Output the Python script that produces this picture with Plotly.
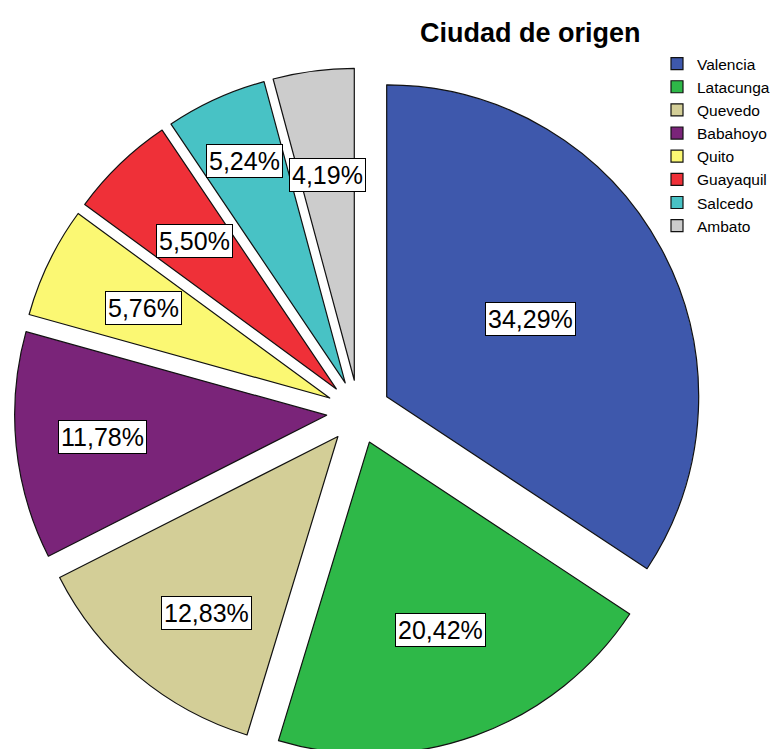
import math
import plotly.graph_objects as go

cities = ["Valencia", "Latacunga", "Quevedo", "Babahoyo", "Quito", "Guayaquil", "Salcedo", "Ambato"]
percent = [34.29, 20.42, 12.83, 11.78, 5.76, 5.50, 5.24, 4.19]
colors = ["#3E58AC", "#2EB848", "#D3CE97", "#7A2479", "#FBF873", "#EF3038", "#48C2C5", "#CCCCCC"]
# placement of the percentage boxes (style): radial fraction and angular nudge in degrees
label_frac = [0.524, 0.644, 0.706, 0.723, 0.662, 0.658, 0.781, 0.664]
label_dang = [0.0, -1.0, -3.4, 0.0, 0.0, 0.0, 0.0, 0.0]

W, H = 784, 749
PULL = 0.1026
dom_x = [0.00829, 0.88584]
dom_y = [0.00134, 0.91989]

fig = go.Figure(go.Pie(
    labels=cities,
    values=percent,
    sort=False,
    direction="clockwise",
    rotation=0,
    pull=[PULL] * len(cities),
    marker=dict(colors=colors, line=dict(color="#111111", width=1.2)),
    textinfo="none",
    hoverinfo="label+percent",
    domain=dict(x=dom_x, y=dom_y),
))

# geometry derived from the pie domain, to place label boxes
wpx = (dom_x[1] - dom_x[0]) * W
hpx = (dom_y[1] - dom_y[0]) * H
r = min(wpx, hpx) / 2 / (1 + PULL)
cx = (dom_x[0] + dom_x[1]) / 2 * W
cy = (dom_y[0] + dom_y[1]) / 2 * H
total = sum(percent)
cum = 0.0
annotations = []
for v, f, da in zip(percent, label_frac, label_dang):
    mid = (cum + v / 2) / total * 2 * math.pi
    cum += v
    # slice vertex after pull
    vx = cx + PULL * r * math.sin(mid)
    vy = cy + PULL * r * math.cos(mid)
    ang = mid + math.radians(da)
    px = vx + f * r * math.sin(ang)
    py = vy + f * r * math.cos(ang)
    annotations.append(dict(
        x=px / W, y=py / H, xref="paper", yref="paper",
        xanchor="center", yanchor="middle",
        text=f"{v:.2f}%".replace(".", ","),
        showarrow=False,
        font=dict(family="Liberation Sans, Arial", size=25, color="#000"),
        bgcolor="white", bordercolor="#000", borderwidth=1, borderpad=2,
    ))

annotations.append(dict(
    x=522 / W, y=1 - 25.5 / H, xref="paper", yref="paper",
    xanchor="center", yanchor="middle",
    text="<b>Ciudad de origen</b>", showarrow=False,
    font=dict(family="Liberation Sans, Arial", size=27, color="#000"),
))

fig.update_layout(
    width=W, height=H,
    margin=dict(l=0, r=0, t=0, b=0, autoexpand=False),
    paper_bgcolor="white",
    plot_bgcolor="white",
    annotations=annotations,
    legend=dict(
        x=649 / W, y=1 - 39 / H, xanchor="left", yanchor="top",
        font=dict(family="Liberation Sans, Arial", size=15.5, color="#000"),
        itemwidth=30, bgcolor="rgba(0,0,0,0)",
        tracegroupgap=0,
    ),
    showlegend=True,
)

fig.write_html("out.html")
